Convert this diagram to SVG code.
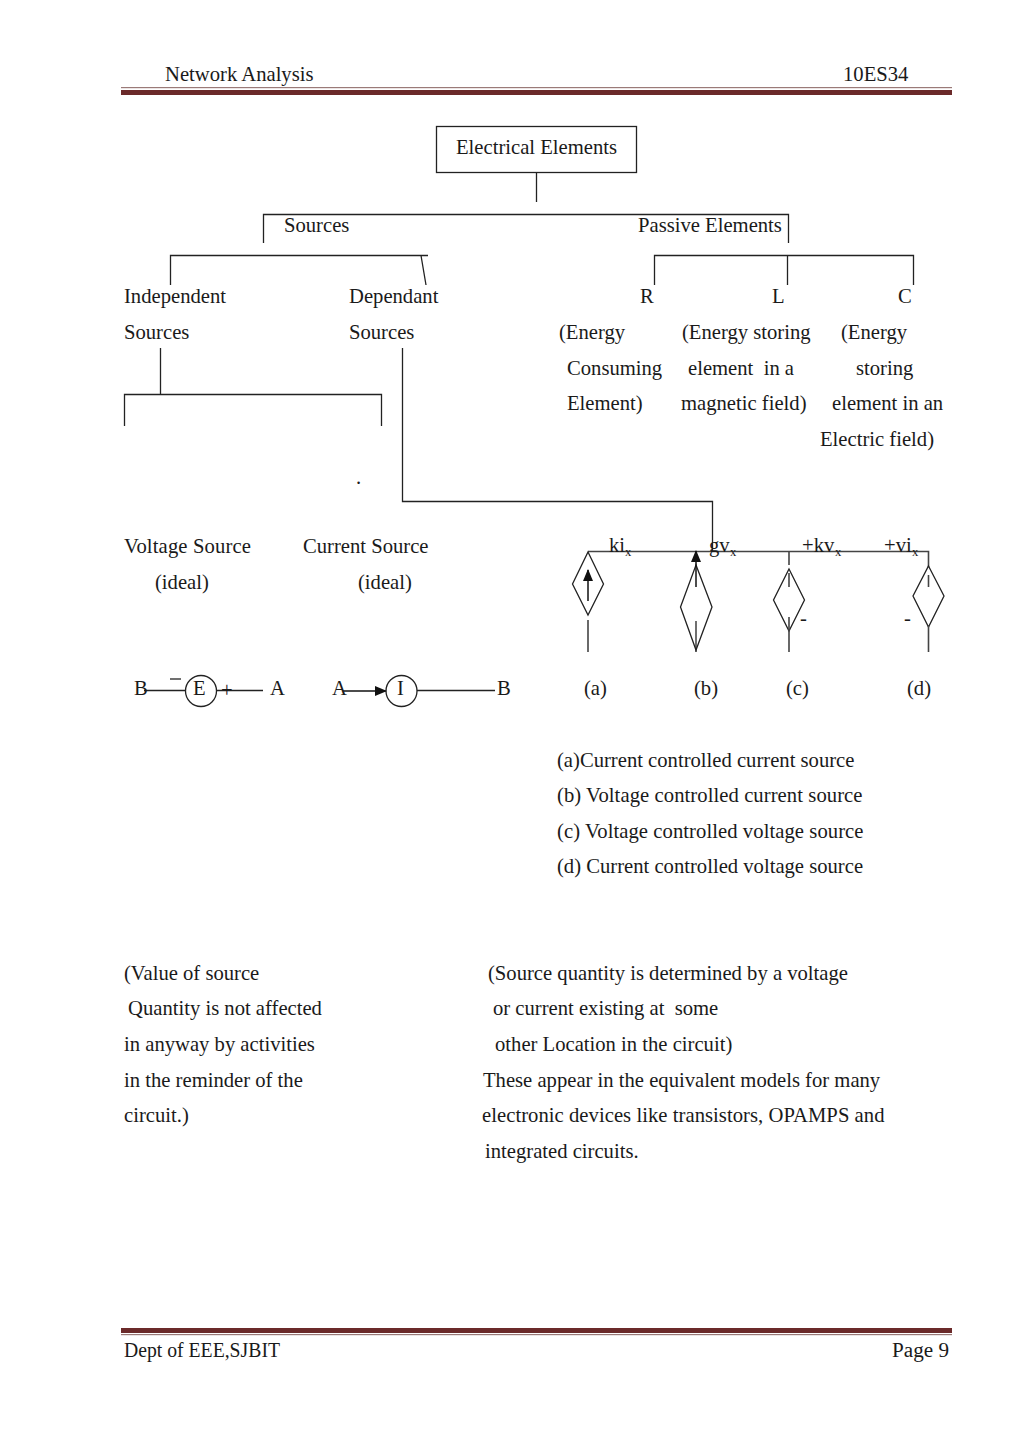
<svg xmlns="http://www.w3.org/2000/svg" width="1024" height="1447" viewBox="0 0 1024 1447">
<style>
text{font-family:"Liberation Serif","Times New Roman",serif;font-size:20.65px;fill:#1a1a1a;transform:translateY(.7px)}
.f{font-family:"Liberation Serif",serif;font-size:20.5px;transform:none}
.s{font-size:12.5px}
.l{fill:none;stroke:#222;stroke-width:1.3}
.g{fill:none;stroke:#444;stroke-width:1.6}
</style>
<defs>
<marker id="ah" viewBox="0 0 12 10" refX="11" refY="5" markerWidth="12" markerHeight="10" markerUnits="userSpaceOnUse" orient="auto"><path d="M0 0L12 5L0 10Z" fill="#111"/></marker>
</defs>
<rect width="1024" height="1447" fill="#fff"/>
<g id="header">
<rect x="121" y="87" width="831" height="1.2" fill="#9a7a78"/>
<rect x="121" y="90" width="831" height="5" fill="#6b2a2a"/>
<text x="165" y="80">Network Analysis</text>
<text x="843" y="80">10ES34</text>
</g>
<g id="footer">
<rect x="121" y="1328" width="831" height="5" fill="#6b2a2a"/>
<rect x="121" y="1334" width="831" height="1.2" fill="#9a7a78"/>
<text class="f" x="124" y="1357" textLength="156" lengthAdjust="spacingAndGlyphs">Dept of EEE,SJBIT</text>
<text class="f" x="892" y="1357" textLength="57" lengthAdjust="spacingAndGlyphs">Page 9</text>
</g>
<g id="connectors">
<path class="l" d="M536.500 173V202"/>
<path class="l" d="M263.500 243V214.500H788.500V243"/>
<path class="l" d="M170.500 285V255.500H428M421 255.500L426 285"/>
<path class="l" d="M654.500 285V255.500H913.500V285M787.500 255.500V285"/>
<path class="l" d="M160.500 348V394M124.500 426V394.500H381.500V426"/>
<path class="l" d="M402.500 348V501.500H712.500V552"/>
<path class="g" d="M588 551.500H928.500V567"/>
</g>
<g id="electrical-elements"><rect x="436.500" y="126.500" width="200" height="46" fill="none" stroke="#222" stroke-width="1.3"/><text x="456" y="153">Electrical Elements</text></g>
<g id="sources"><text x="284" y="231">Sources</text></g>
<g id="passive-elements"><text x="638" y="231">Passive Elements</text></g>
<g id="independent-sources"><text x="124" y="302">Independent</text><text x="124" y="338">Sources</text></g>
<g id="dependant-sources"><text x="349" y="302">Dependant</text><text x="349" y="338">Sources</text></g>
<g id="element-r"><text x="640" y="302">R</text><text x="559" y="338">(Energy</text><text x="567" y="374">Consuming</text><text x="567" y="409">Element)</text></g>
<g id="element-l"><text x="772" y="302">L</text><text x="682" y="338">(Energy storing</text><text x="688" y="374" xml:space="preserve">element  in a</text><text x="681" y="409">magnetic field)</text></g>
<g id="element-c"><text x="898" y="302">C</text><text x="841" y="338">(Energy</text><text x="856" y="374">storing</text><text x="832" y="409">element in an</text><text x="820" y="445">Electric field)</text></g>
<g id="dot"><text x="356" y="483">.</text></g>
<g id="voltage-source"><text x="124" y="552" textLength="127">Voltage Source</text><text x="155" y="588">(ideal)</text>
<path class="l" d="M144 690.500H185M217 690.500H263"/>
<circle cx="201" cy="691" r="15.500" fill="none" stroke="#222" stroke-width="1.300"/>
<text x="134" y="694">B</text><text x="193" y="694">E</text><text x="221" y="696">+</text><text x="270" y="694">A</text>
<path class="l" d="M170 679H181"/></g>
<g id="current-source"><text x="303" y="552">Current Source</text><text x="358" y="588">(ideal)</text>
<path d="M343 691H386" fill="none" stroke="#111" stroke-width="1.500" marker-end="url(#ah)"/>
<path class="l" d="M417 690.500H495"/>
<circle cx="401.500" cy="691" r="15.500" fill="none" stroke="#222" stroke-width="1.300"/>
<text x="332" y="694">A</text><text x="397" y="694">I</text><text x="497" y="694">B</text></g>
<g id="source-a">
<path class="l" d="M588 552L603.500 584L588 615L572.500 584Z"/>
<path d="M588 601V570" fill="none" stroke="#111" stroke-width="1.500" marker-end="url(#ah)"/>
<path class="g" d="M588 620V652"/>
<text x="609" y="551">ki</text><text class="s" x="625" y="555">x</text><text x="584" y="694">(a)</text></g>
<g id="source-b">
<path class="l" d="M696 565L712 607L696 650L680.500 607Z"/>
<path d="M696 587V551" fill="none" stroke="#111" stroke-width="1.500" marker-end="url(#ah)"/>
<path class="l" d="M696 621V652"/>
<text x="709" y="551">gv</text><text class="s" x="730" y="555">x</text><text x="694" y="694">(b)</text></g>
<g id="source-c">
<path class="l" d="M789 569L804.500 600L789 631L773.500 600Z"/>
<path class="g" d="M789 552V565M789 573V587M789 617V652"/>
<text x="800" y="624">-</text>
<text x="802" y="551">+kv</text><text class="s" x="835" y="555">x</text><text x="786" y="694">(c)</text></g>
<g id="source-d">
<path class="l" d="M928.500 566L944 596L928.500 627L913 596Z"/>
<path class="g" d="M928.500 575V587M928.500 625V652"/>
<text x="904" y="624">-</text>
<text x="884" y="551">+vi</text><text class="s" x="912" y="555">x</text><text x="907" y="694">(d)</text></g>
<g id="legend">
<text x="557" y="766">(a)Current controlled current source</text>
<text x="557" y="801" textLength="305.500">(b) Voltage controlled current source</text>
<text x="557" y="837" textLength="306.500">(c) Voltage controlled voltage source</text>
<text x="557" y="872">(d) Current controlled voltage source</text>
</g>
<g id="independent-note">
<text x="124" y="979">(Value of source</text>
<text x="128" y="1014"> Quantity is not affected</text>
<text x="124" y="1050">in anyway by activities</text>
<text x="124" y="1086">in the reminder of the</text>
<text x="124" y="1121">circuit.)</text>
</g>
<g id="dependent-note">
<text x="488" y="979">(Source quantity is determined by a voltage</text>
<text x="493" y="1014" xml:space="preserve">or current existing at  some</text>
<text x="495" y="1050">other Location in the circuit)</text>
<text x="483" y="1086">These appear in the equivalent models for many</text>
<text x="482" y="1121" textLength="402.500">electronic devices like transistors, OPAMPS and</text>
<text x="485" y="1157">integrated circuits.</text>
</g>
</svg>
